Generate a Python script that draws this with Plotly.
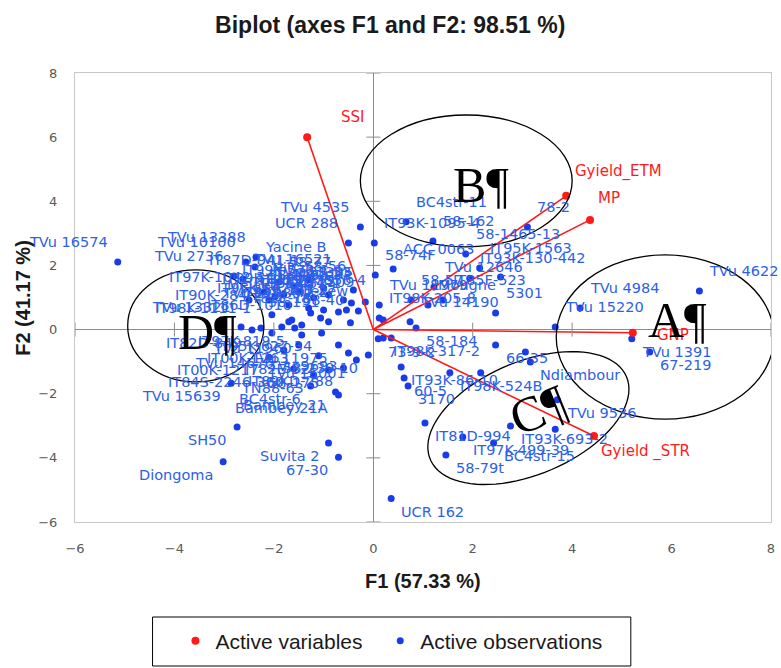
import numpy as np
import plotly.graph_objects as go

# ---------------- data ----------------
title_text = "Biplot (axes F1 and F2: 98.51 %)"
x_title = "F1 (57.33 %)"
y_title = "F2 (41.17 %)"
tick_vals = [-6, -4, -2, 0, 2, 4, 6, 8]

var_names = ["SSI", "Gyield_ETM", "MP", "GNP", "Gyield _STR"]
var_f1 = [-1.33, 3.88, 4.36, 5.22, 4.44]
var_f2 = [6.00, 4.17, 3.42, -0.10, -3.32]

obs_names = [
    "TVu 16574", "Diongoma", "SH50", "Suvita 2", "67-30", "UCR 162", "TVu 4622", "TVu 4984",
    "TVu 15220", "TVu 1391", "67-219", "TVu 9536", "Ndiambour", "66-35", "58-184", "IT98K-317-2",
    "73-9-2", "IT93K-86-10", "60-5", "3170", "IT98K-524B", "IT81D-994", "IT97K-499-39", "BC4str-15",
    "IT93K-693-2", "58-79t", "78-2", "58-1465-13", "58-162", "BC4str-11", "IT93K-1095-4", "TVu 4535",
    "UCR 288", "58-74F", "ACC 0063", "IT95K-1563", "IT93K-130-442", "TVu 12646", "5301", "TVu 14190",
    "58-57", "IT85F-523", "TVu 11979", "IT98K-205-8", "Mougne", "", "", "", "", "", "",
    "TVu 13388", "TVu 10100", "TVu 2736", "Yacine B", "TVu 16521", "58-56", "IT97K-1042-3", "IT98K-1111-1",
    "IT97K-556-4", "Mouride", "58-53", "IT99K-1122", "58-146", "TVu 7676", "IT99K-573-1-1", "Melakh",
    "IT95K-1479", "58-157", "IT83S-742-2", "IT90K-284-2", "58-40", "IT86D-1010", "TVu 11986", "IT82E-18",
    "58-191", "CB 27", "IT93K-452-1", "TVu 1509", "Tiekew", "58-77", "TVu 13305", "IT87D-941-1",
    "Niban", "IT86D-719", "", "", "", "TVu 13321",
    "IT82D-849", "IT97K-819-5", "TVu 11975", "IT00K-1263", "58-239-10", "TVu 15001", "IT84S-2246-360",
    "TVu 15639", "BC4str-6", "Bambey 21", "IT00K-1217", "", "TVu 11960", "IT95K-627-34", "TVu 9693",
    "IT82E-32", "TVu 14676", "58-175", "IT89KD-288", "TN88-63", "Bambey 21A",
]
obs_f1 = [
    -5.14, -3.02, -2.74, -0.90, -0.70, 0.36, 6.56, 4.16,
    3.66, 5.20, 5.56, 3.70, 3.16, 2.46, 0.86, 0.20,
    0.10, 0.56, 0.62, 0.70, 1.54, 1.04, 1.80, 2.42,
    2.76, 1.46, 3.10, 1.86, 1.20, 0.66, 0.02, -0.26,
    -0.50, 0.04, 0.40, 2.14, 1.94, 1.22, 2.46, 0.74,
    0.76, 1.40, 0.12, 0.12, 1.10, 2.56, 0.36, 3.06, 2.16, 3.66, 0.20,
    -2.36, -2.56, -2.80, -2.38, -2.62, -1.60, -1.98, -2.26,
    -2.10, -1.80, -1.50, -1.20, -0.90, -0.60, -0.40, -1.70,
    -1.30, -1.00, -0.70, -2.04, -1.64, -1.44, -1.26, -1.06,
    -0.90, -0.54, -0.44, -0.16, -0.30, -1.90, -2.20, -1.30,
    -1.00, -2.50, -0.46, -1.70, -1.84, -2.66,
    -2.44, -1.58, -0.70, -1.50, -0.10, -0.34, -1.60,
    -2.86, -1.26, -0.76, -2.10, -2.04, -1.44, -1.04, -0.50,
    -1.10, -1.80, -0.90, -0.60, -1.20, -0.70,
]
obs_f2 = [
    2.11, -4.12, -3.04, -3.54, -3.98, -5.27, 1.20, 0.67,
    0.08, -0.29, -0.70, -2.19, -1.01, -0.48, 0.05, -0.26,
    -0.29, -1.17, -1.51, -1.76, -1.35, -2.91, -3.35, -3.54,
    -3.01, -3.91, 3.20, 2.36, 2.76, 3.36, 2.70, 3.20,
    2.70, 1.70, 1.89, 1.92, 1.60, 1.33, 0.52, 0.24,
    0.92, 0.92, 0.77, 0.36, 0.77, 1.64, -0.26, -0.70, -1.35, -3.11, 0.30,
    2.26, 2.11, 1.67, 1.95, 1.58, 1.36, 1.02, 0.05,
    0.92, 1.10, 1.17, 0.99, 1.08, 0.92, 1.23, 0.77,
    0.67, 0.61, 0.55, 0.46, 0.30, 0.14, 0.52, 0.36,
    0.24, 0.61, 0.83, 0.86, 0.58, 1.48, 1.17, 1.55,
    1.30, 0.92, 0.21, 0.24, 0.08, 0.08,
    -0.01, 0.05, -0.48, -0.48, -0.79, -0.95, -1.22,
    -1.67, -1.76, -1.95, -0.86, -0.11, -0.17, -0.11, -0.73,
    -0.82, -0.64, -1.26, -1.20, -1.42, -2.04,
]
# label placement (style): TR / TL / BR / BL relative to the point
obs_lbl = [
    "TL", "BL", "BL", "BL", "BL", "BR", "TR", "TR",
    "TR", "BR", "BR", "BR", "BR", "BR", "BR", "BR",
    "BR", "BR", "BR", "BR", "BR", "BR", "BR", "BR",
    "BR", "BR", "TR", "TR", "TR", "TR", "TR", "TL",
    "TL", "TR", "TR", "TR", "TR", "TR", "TR", "TR",
    "TR", "TR", "TR", "TR", "TR", "", "", "", "", "", "",
    "TL", "TL", "TL", "TR", "TR", "TR", "TL", "TL",
    "TR", "TR", "TR", "TL", "TL", "TL", "TL", "TL",
    "TL", "TL", "TL", "TL", "TR", "TL", "TL", "TL",
    "TL", "TL", "TL", "TL", "TL", "TR", "TR", "TL",
    "TL", "TR", "", "", "", "TL",
    "BL", "BL", "BL", "BL", "BL", "BL", "BL",
    "BL", "BL", "BL", "BL", "", "BL", "BL", "BL",
    "BL", "BL", "BL", "BL", "BL", "BL",
]

group_labels = ["A¶", "B¶", "C¶", "D¶"]

# ---------------- styling ----------------
W, H = 781, 668
ML, MR, MT, MB = 75, 6, 73, 146
XR, YR = [-6, 8], [-6, 8]
PW, PH = W - ML - MR, H - MT - MB
pxx = PW / (XR[1] - XR[0])
pxy = PH / (YR[1] - YR[0])

RED = "#ff1a1a"
BLUE_DOT = "rgb(25,60,235)"
BLUE_TXT = "rgb(45,95,232)"
AXIS_GRAY = "#8c8c8c"


def px_to_paper_x(px):
    return (px - ML) / PW


def px_to_paper_y(py):
    return (H - MB - py) / PH


fig = go.Figure()

# observations
fig.add_trace(go.Scatter(
    x=obs_f1, y=obs_f2, mode="markers", name="Active observations",
    marker=dict(color=BLUE_DOT, size=7), legend="legend2", hoverinfo="skip",
))

# variable vectors
lx, ly = [], []
for a, b in zip(var_f1, var_f2):
    lx += [0, a, None]
    ly += [0, b, None]
fig.add_trace(go.Scatter(x=lx, y=ly, mode="lines", line=dict(color=RED, width=1.6),
                         showlegend=False, hoverinfo="skip"))
fig.add_trace(go.Scatter(
    x=var_f1, y=var_f2, mode="markers", name="Active variables",
    marker=dict(color=RED, size=8), legend="legend", hoverinfo="skip",
))

# tick marks crossing the zero axes
tv_nz = [t for t in tick_vals if t != 0]
fig.add_trace(go.Scatter(x=[0] * len(tv_nz), y=tv_nz, mode="markers",
                         marker=dict(symbol="line-ew", size=10, line=dict(width=1, color=AXIS_GRAY)),
                         showlegend=False, hoverinfo="skip", cliponaxis=False))
fig.add_trace(go.Scatter(x=tv_nz, y=[0] * len(tv_nz), mode="markers",
                         marker=dict(symbol="line-ns", size=10, line=dict(width=1, color=AXIS_GRAY)),
                         showlegend=False, hoverinfo="skip", cliponaxis=False))

annotations = []
pos_map = {"TR": ("left", 8, 20), "TL": ("right", -8, 20),
           "BR": ("left", 8, -13), "BL": ("right", -8, -13)}
for n, fx, fy, p in zip(obs_names, obs_f1, obs_f2, obs_lbl):
    if not n:
        continue
    xa, xs, ys = pos_map[p]
    annotations.append(dict(x=fx, y=fy, text=n, showarrow=False, xanchor=xa, yanchor="middle",
                            xshift=xs, yshift=ys,
                            font=dict(family="DejaVu Sans", size=14.5, color=BLUE_TXT)))

var_shift = [(45, 20), (52, 24), (19, 22), (40, -2), (51, -15)]
for n, fx, fy, (xs, ys) in zip(var_names, var_f1, var_f2, var_shift):
    annotations.append(dict(x=fx, y=fy, text=n, showarrow=False, xanchor="center", yanchor="middle",
                            xshift=xs, yshift=ys,
                            font=dict(family="DejaVu Sans", size=15, color=RED)))

# group ellipses (decoration)
shapes = []
ell_boxes = {"A": (3.68, 8.06, -2.79, 2.33), "B": (-0.26, 4.0, 2.58, 6.69), "D": (-4.94, -2.2, -1.63, 1.86)}
for k, (x0, x1, y0, y1) in ell_boxes.items():
    shapes.append(dict(type="circle", xref="x", yref="y", x0=x0, x1=x1, y0=y0, y1=y1,
                       line=dict(color="black", width=1.3), layer="above"))
# rotated ellipse C (center in data units, axes in pixels, angle in degrees)
c_cx, c_cy, c_a, c_b, c_th = 3.12, -2.76, 107, 56.5, np.deg2rad(22.6)
t = np.linspace(0, 2 * np.pi, 90)
ex = c_cx + (c_a * np.cos(t) * np.cos(c_th) - c_b * np.sin(t) * np.sin(c_th)) / pxx
ey = c_cy + (c_a * np.cos(t) * np.sin(c_th) + c_b * np.sin(t) * np.cos(c_th)) / pxy
path = "M " + " L ".join(f"{a:.4f},{b:.4f}" for a, b in zip(ex, ey)) + " Z"
shapes.append(dict(type="path", xref="x", yref="y", path=path,
                   line=dict(color="black", width=1.3), layer="above"))

# legend frame
shapes.append(dict(type="rect", xref="paper", yref="paper",
                   x0=px_to_paper_x(153), x1=px_to_paper_x(634),
                   y0=px_to_paper_y(666), y1=px_to_paper_y(617),
                   line=dict(color="black", width=1), fillcolor="rgba(0,0,0,0)"))

grp_pos = [(6.12, 0.30, 0), (2.16, 4.50, 0), (3.32, -2.50, -22), (-3.34, -0.07, 0)]
for g, (gx, gy, ang) in zip(group_labels, grp_pos):
    annotations.append(dict(x=gx, y=gy, text=g, showarrow=False, textangle=ang,
                            font=dict(family="Liberation Serif", size=50, color="black")))

# axis titles
annotations.append(dict(xref="paper", yref="paper", x=0.5, y=px_to_paper_y(581),
                        text="<b>" + x_title + "</b>", showarrow=False, yanchor="middle",
                        font=dict(family="Liberation Sans", size=20, color="#1a1a1a")))
annotations.append(dict(xref="paper", yref="paper", x=px_to_paper_x(22), y=0.5,
                        text="<b>" + y_title + "</b>", showarrow=False, textangle=-90,
                        xanchor="center", yanchor="middle",
                        font=dict(family="Liberation Sans", size=20, color="#1a1a1a")))

axis_common = dict(
    tickvals=tick_vals, showgrid=False, zeroline=True, zerolinecolor=AXIS_GRAY,
    zerolinewidth=1, showline=True, mirror=True, linecolor="#c8c8c8", linewidth=1,
    ticks="", tickfont=dict(family="DejaVu Sans", size=13, color="#595959"),
)
legend_common = dict(orientation="h", xanchor="left", yanchor="middle",
                     y=px_to_paper_y(641), borderwidth=0, bgcolor="rgba(0,0,0,0)",
                     font=dict(family="Liberation Sans", size=21, color="#1a1a1a"),
                     itemwidth=30)
fig.update_layout(
    width=W, height=H, margin=dict(l=ML, r=MR, t=MT, b=MB),
    paper_bgcolor="white", plot_bgcolor="white",
    title=dict(text="<b>" + title_text + "</b>", x=px_to_paper_x(392), xanchor="center", xref="paper",
               y=1 - 25 / H, yanchor="middle", yref="container",
               font=dict(family="Liberation Sans", size=23, color="#1a1a1a")),
    xaxis=dict(axis_common, range=XR, ticklabelstandoff=14),
    yaxis=dict(axis_common, range=YR, ticklabelstandoff=14),
    shapes=shapes, annotations=annotations,
    showlegend=True,
    legend=dict(legend_common, x=px_to_paper_x(176)),
    legend2=dict(legend_common, x=px_to_paper_x(382)),
)

fig.write_html("out.html")
